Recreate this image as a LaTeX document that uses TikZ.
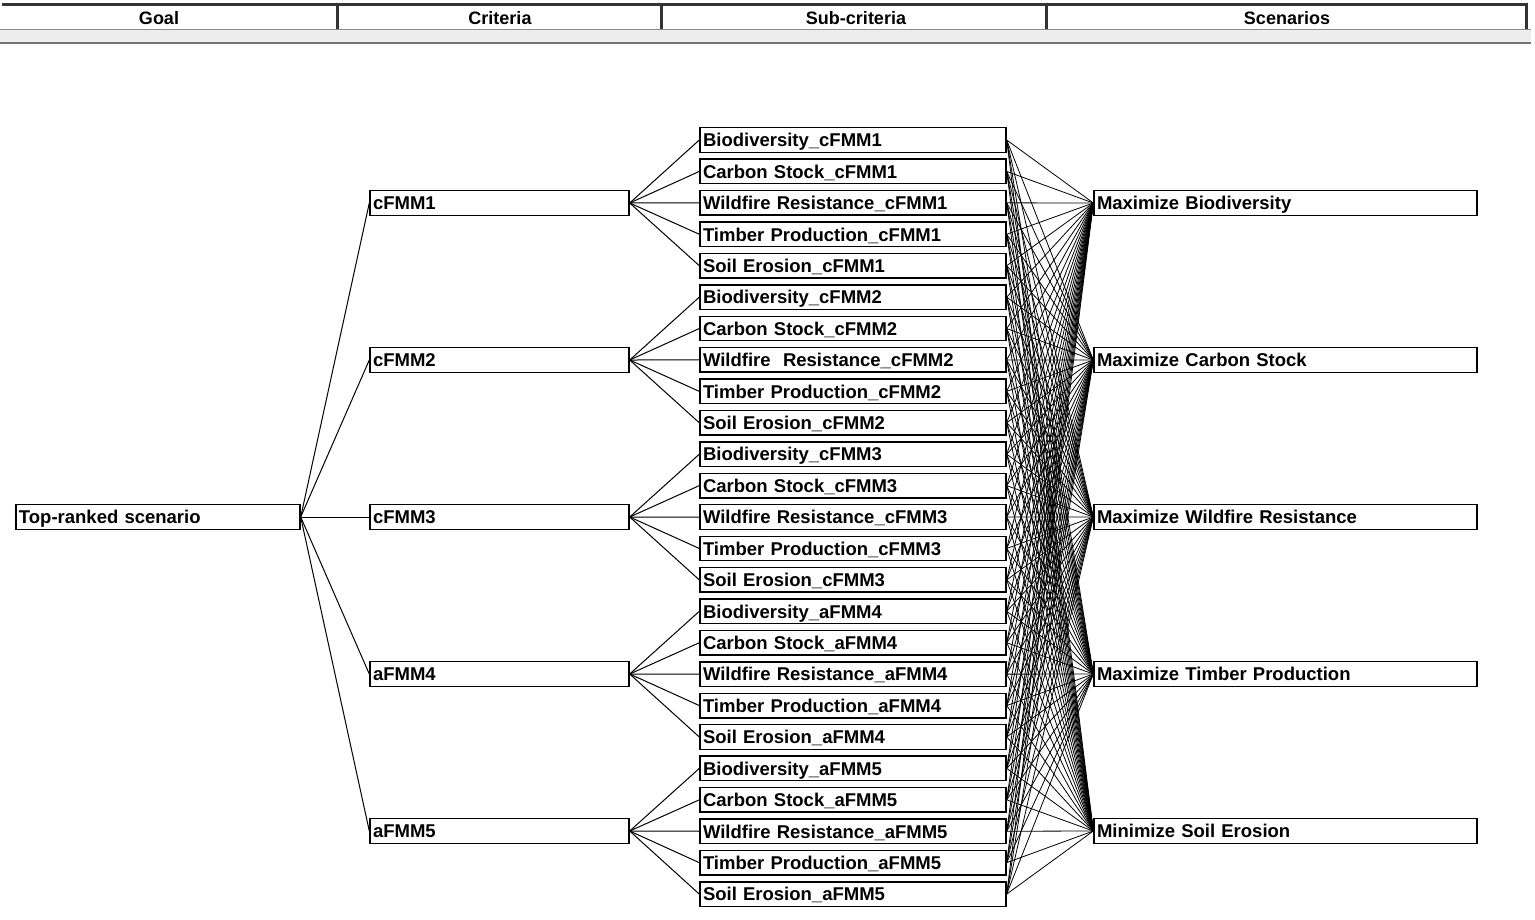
\documentclass[tikz,border=0pt]{standalone}
\usepackage{fontspec}
\setmainfont{Liberation Sans}
\begin{document}
\begin{tikzpicture}[x=1pt,y=-1pt,
  box/.style={draw=black, line width=1.4pt, rectangle, inner xsep=3pt, inner ysep=0pt,
    text height=15.5pt, text depth=2pt,
    minimum height=24.5pt, align=left, font=\bfseries\fontsize{18.5}{20}\selectfont},
  hdr/.style={font=\bfseries\fontsize{18}{19}\selectfont, inner sep=0pt},
  link/.style={draw=black, line width=1pt},
  sep/.style={draw=black!80, line width=3pt}]
\useasboundingbox (0,0) rectangle (1535,919);
% header
\fill[black!7] (0,29) rectangle (1531,42);
\draw[black!45, line width=1.5pt] (0,29.5) -- (1531,29.5);
\draw[black!55, line width=2pt] (0,42.5) -- (1531,42.5);
\draw[black!80, line width=2.5pt] (2,4.5) -- (1528,4.5);
\foreach \xs in {337,661,1046,1526} \draw[sep] (\xs,4) -- (\xs,29);
\node[hdr] (h1) at (159,18) {Goal};
\node[hdr] (h2) at (500,18) {Criteria};
\node[hdr] (h3) at (856,18) {Sub-criteria};
\node[hdr] (h4) at (1287,18) {Scenarios};
% goal
\node[box, text width=278pt] (G) at (158,517) {Top-ranked scenario};
% criteria
\foreach \c [count=\k] in {cFMM1,cFMM2,cFMM3,aFMM4,aFMM5} {
  \node[box, text width=253pt] (C\k) at (499.5,{203+157*(\k-1)}) {\c};
  \draw[link] (G.east) -- (C\k.west);
}
% scenarios
\foreach \s [count=\r] in {Maximize Biodiversity,Maximize Carbon Stock,Maximize Wildfire Resistance,Maximize Timber Production,Minimize Soil Erosion} {
  \node[box, text width=377pt] (R\r) at (1285.5,{203+157*(\r-1)}) {\s};
}
% sub-criteria
\foreach \c [count=\k] in {cFMM1,cFMM2,cFMM3,aFMM4,aFMM5} {
  \foreach \a [count=\j] in {Biodiversity,Carbon Stock,Wildfire Resistance,Timber Production,Soil Erosion} {
    \pgfmathtruncatemacro\idx{(\k-1)*5+\j}
    \node[box, text width=300pt] (S\idx) at (853,{140+31.42*(\idx-1)})
      {\ifnum\idx=8 Wildfire\ \ Resistance\else\a\fi\_\c};
    \draw[link] (C\k.east) -- (S\idx.west);
    \foreach \r in {1,...,5} \draw[link, line width=0.8pt] (S\idx.east) -- (R\r.west);
  }
}
\end{tikzpicture}
\end{document}
